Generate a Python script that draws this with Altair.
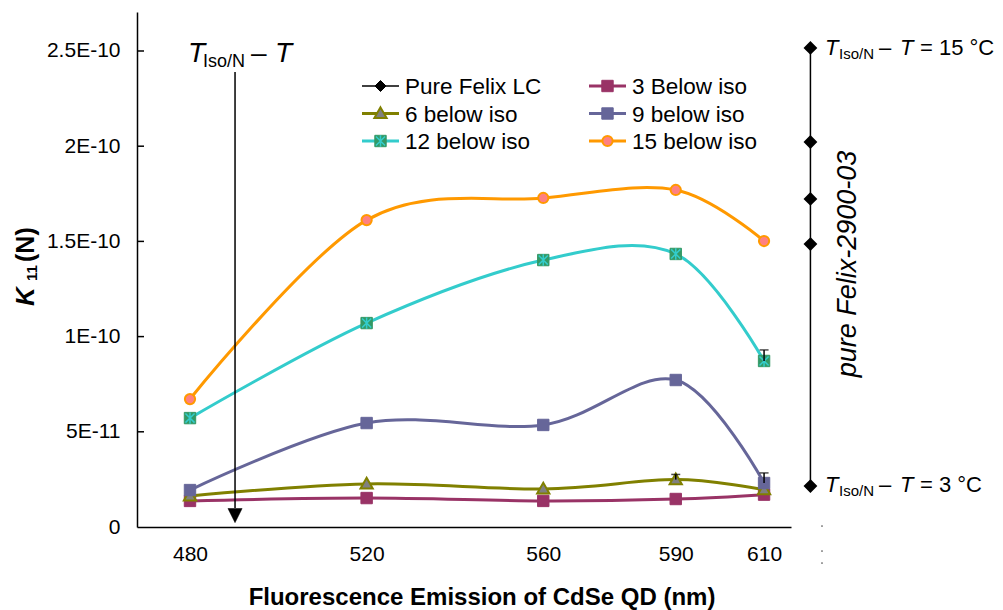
import altair as alt
import pandas as pd

# ---------------- data (K11 in units of 1e-10 N) ----------------
wavelength_nm = [480, 520, 560, 590, 610]
series_names = ["3 Below iso", "6 below iso", "9 below iso", "12 below iso", "15 below iso"]
k11_3_below = [0.137, 0.152, 0.137, 0.147, 0.170]
k11_6_below = [0.163, 0.226, 0.200, 0.249, 0.196]
k11_9_below = [0.194, 0.546, 0.536, 0.772, 0.231]
k11_12_below = [0.572, 1.071, 1.402, 1.434, 0.872]
k11_15_below = [0.672, 1.612, 1.728, 1.770, 1.502]
series_values = [k11_3_below, k11_6_below, k11_9_below, k11_12_below, k11_15_below]

# upward error bars
err_series = ["6 below iso", "9 below iso", "12 below iso"]
err_wavelength = [590, 610, 610]
err_plus = [0.027, 0.053, 0.058]

# pure Felix-2900-03 column, drawn beside the last wavelength
pure_label = "Pure Felix LC"
pure_wavelength = 620.5
pure_delta_t = [15, 12, 9, 6, 3]
pure_k11 = [2.516, 2.022, 1.723, 1.486, 0.215]

x_ticks = wavelength_nm
y_ticks = [0, 0.5, 1.0, 1.5, 2.0, 2.5]

# ---------------- layout ----------------
FONT = "Liberation Sans"
PAD_L, PAD_T, PLOT_W, PLOT_H = 137, 12, 654, 515
PAD_R, PAD_B = 1003 - PAD_L - PLOT_W, 610 - PAD_T - PLOT_H


def px(x):
    return x - PAD_L


def py(y):
    return y - PAD_T


DIAMOND = "M0,-1L1,0L0,1L-1,0Z"
TRIANGLE = "M0,-1L1,0.75L-1,0.75Z"
ASTERISK = "M-0.8,-0.8L0.8,0.8M-0.8,0.8L0.8,-0.8M0,-1L0,1"
ARROW_HEAD = "M-1,-1L1,-1L0,1Z"

STYLE = {
    "Pure Felix LC": dict(line="#000000", shape=DIAMOND, fill="#000000", stroke="#000000", size=121, sw=1),
    "3 Below iso": dict(line="#993366", shape="square", fill="#993366", stroke="#993366", size=130, sw=1),
    "6 below iso": dict(line="#808000", shape=TRIANGLE, fill="#808080", stroke="#808000", size=150, sw=2),
    "9 below iso": dict(line="#666699", shape="square", fill="#666699", stroke="#666699", size=130, sw=1),
    "12 below iso": dict(line="#33CCCC", shape="square", fill="#339966", stroke="#339966", size=130, sw=1,
                         overlay=ASTERISK),
    "15 below iso": dict(line="#FF9900", shape="circle", fill="#FF8080", stroke="#FF9900", size=105, sw=2),
}

X_SCALE = alt.Scale(domain=[468, 616.1], nice=False, zero=False)
Y_SCALE = alt.Scale(domain=[0, 2.7048], nice=False, zero=True)
X_ENC = alt.X(
    "wavelength:Q",
    scale=X_SCALE,
    axis=alt.Axis(values=x_ticks, title=None, ticks=False, tickSize=0, grid=False,
                  labelFontSize=21, labelFont=FONT, labelColor="black", labelPadding=16,
                  domainColor="black", domainWidth=1.5, format="d"),
)
Y_ENC = alt.Y(
    "k11:Q",
    scale=Y_SCALE,
    axis=alt.Axis(values=y_ticks, title=None, ticks=False, tickSize=0, grid=False,
                  labelFontSize=21, labelFont=FONT, labelColor="black", labelPadding=17,
                  domainColor="black", domainWidth=1.5,
                  labelExpr="datum.value == 0 ? '0' : datum.value == 0.5 ? '5E-11' : datum.value + 'E-10'"),
)

rows = []
for name, vals in zip(series_names, series_values):
    for w, v in zip(wavelength_nm, vals):
        rows.append({"series": name, "wavelength": w, "k11": v})
long_df = pd.DataFrame(rows)

layers = []

# smoothed series with markers
for name in series_names:
    st = STYLE[name]
    sub = long_df[long_df["series"] == name]
    base = alt.Chart(sub)
    layers.append(
        base.mark_line(interpolate="cardinal", color=st["line"], strokeWidth=3)
        .encode(x=X_ENC, y=Y_ENC)
    )
    layers.append(
        base.mark_point(shape=st["shape"], filled=True, fill=st["fill"], stroke=st["stroke"],
                        strokeWidth=st["sw"], size=st["size"], opacity=1)
        .encode(x=X_ENC, y=Y_ENC)
    )
    if "overlay" in st:
        layers.append(
            base.mark_point(shape=st["overlay"], filled=False, stroke=st["line"], strokeWidth=1.5,
                            size=st["size"], opacity=1)
            .encode(x=X_ENC, y=Y_ENC)
        )

# inward tick marks on the y axis
tick_df = pd.DataFrame({"k11": y_ticks[1:]})
layers.append(
    alt.Chart(tick_df).mark_rule(color="black", strokeWidth=1.5)
    .encode(y=Y_ENC, x=alt.value(0), x2=alt.value(7))
)

# error bars (upper side only)
err_rows = []
cap_rows = []
for name, w, e in zip(err_series, err_wavelength, err_plus):
    v = series_values[series_names.index(name)][wavelength_nm.index(w)]
    err_rows.append({"wavelength": w, "k11": v, "k11_top": v + e})
    cap_rows.append({"wavelength": w, "k11": v + e})
err_df = pd.DataFrame(err_rows)
cap_df = pd.DataFrame(cap_rows)
layers.append(
    alt.Chart(err_df).mark_rule(color="black", strokeWidth=1.5)
    .encode(x=X_ENC, y=Y_ENC, y2="k11_top:Q")
)
layers.append(
    alt.Chart(cap_df).mark_tick(color="black", orient="horizontal", size=9, thickness=1.5)
    .encode(x=X_ENC, y=Y_ENC)
)

# pure Felix column
pure_df = pd.DataFrame({"wavelength": [pure_wavelength] * len(pure_k11), "k11": pure_k11,
                        "dT": pure_delta_t})
pst = STYLE[pure_label]
layers.append(
    alt.Chart(pure_df).mark_line(color="black", strokeWidth=1.5)
    .encode(x=X_ENC, y=Y_ENC, order=alt.Order("k11:Q"))
)
layers.append(
    alt.Chart(pure_df).mark_point(shape=pst["shape"], filled=True, fill="black", stroke="black",
                                  size=pst["size"], opacity=1)
    .encode(x=X_ENC, y=Y_ENC)
)

# arrow marking decreasing T_Iso/N - T
arrow_df = pd.DataFrame({"wavelength": [490.2], "k11": [2.39], "k11_end": [0.1]})
layers.append(
    alt.Chart(arrow_df).mark_rule(color="black", strokeWidth=1.5)
    .encode(x=X_ENC, y=Y_ENC, y2="k11_end:Q")
)
head_df = pd.DataFrame({"wavelength": [490.2], "k11": [0.060]})
layers.append(
    alt.Chart(head_df).mark_point(shape=ARROW_HEAD, filled=True, fill="black", stroke="black",
                                  strokeWidth=0.5, size=200, opacity=1)
    .encode(x=X_ENC, y=Y_ENC)
)


def text_at(s, x, y, size, italic=False, bold=False, align="left", baseline="alphabetic", angle=None):
    kw = dict(align=align, baseline=baseline, fontSize=size, font=FONT, color="black")
    if italic:
        kw["fontStyle"] = "italic"
    if bold:
        kw["fontWeight"] = "bold"
    if angle is not None:
        kw["angle"] = angle
    return (alt.Chart(pd.DataFrame({"label": [s]})).mark_text(**kw)
            .encode(x=alt.value(px(x)), y=alt.value(py(y)), text="label:N"))


# arrow caption
layers += [
    text_at("T", 188, 62, 28, italic=True),
    text_at("Iso/N", 203, 67, 18),
    text_at("\u2013", 251, 62, 28),
    text_at("T", 275, 62, 28, italic=True),
]

# labels for the ends of the pure column
for base_y, tail in [(55, "= 15 \u00b0C"), (492, "= 3 \u00b0C")]:
    layers += [
        text_at("T", 825, base_y, 22, italic=True),
        text_at("Iso/N", 839, base_y + 4, 15),
        text_at("\u2013", 879, base_y, 22),
        text_at("T", 900, base_y, 22, italic=True),
        text_at(tail, 920, base_y, 22),
    ]

layers.append(text_at("pure Felix-2900-03", 848, 264, 27, italic=True, align="center",
                      baseline="middle", angle=270))

# axis titles
layers += [
    text_at("K", 34, 306, 26, italic=True, bold=True, angle=270),
    text_at("11", 37, 281, 15, bold=True, angle=270),
    text_at("(N)", 34, 262, 25, bold=True, angle=270),
    text_at("Fluorescence Emission of CdSe QD (nm)", 482, 605, 24, bold=True, align="center"),
]

# small stray marks right of the axis end
for dy in [526, 551, 563]:
    layers.append(
        alt.Chart(pd.DataFrame({"d": [dy]})).mark_point(filled=True, color="#555555", size=3, opacity=1)
        .encode(x=alt.value(px(822)), y=alt.value(py(dy)))
    )

# legend, two columns
legend_order = [pure_label] + series_names
LEG_X = [362, 589]
LEG_LEN = 37
LEG_Y = [86, 113.5, 141]
one = pd.DataFrame({"k": [0]})
for i, name in enumerate(legend_order):
    st = STYLE[name]
    x0 = LEG_X[i % 2]
    y0 = LEG_Y[i // 2]
    lw = 1.5 if name == pure_label else 3
    layers.append(
        alt.Chart(one).mark_rule(color=st["line"], strokeWidth=lw)
        .encode(x=alt.value(px(x0)), x2=alt.value(px(x0 + LEG_LEN)), y=alt.value(py(y0)))
    )
    layers.append(
        alt.Chart(one).mark_point(shape=st["shape"], filled=True, fill=st["fill"], stroke=st["stroke"],
                                  strokeWidth=st["sw"], size=st["size"], opacity=1)
        .encode(x=alt.value(px(x0 + LEG_LEN / 2)), y=alt.value(py(y0)))
    )
    if "overlay" in st:
        layers.append(
            alt.Chart(one).mark_point(shape=st["overlay"], filled=False, stroke=st["line"],
                                      strokeWidth=1.5, size=st["size"], opacity=1)
            .encode(x=alt.value(px(x0 + LEG_LEN / 2)), y=alt.value(py(y0)))
        )
    layers.append(text_at(name, x0 + 43, y0 + 1, 22.5, baseline="middle"))

chart = (
    alt.layer(*layers)
    .properties(
        width=PLOT_W,
        height=PLOT_H,
        autosize=alt.AutoSizeParams(type="none"),
        padding={"left": PAD_L, "top": PAD_T, "right": PAD_R, "bottom": PAD_B},
        background="white",
    )
    .configure_view(stroke=None)
)

chart.save("out.html", embed_options={"renderer": "svg", "actions": False})
